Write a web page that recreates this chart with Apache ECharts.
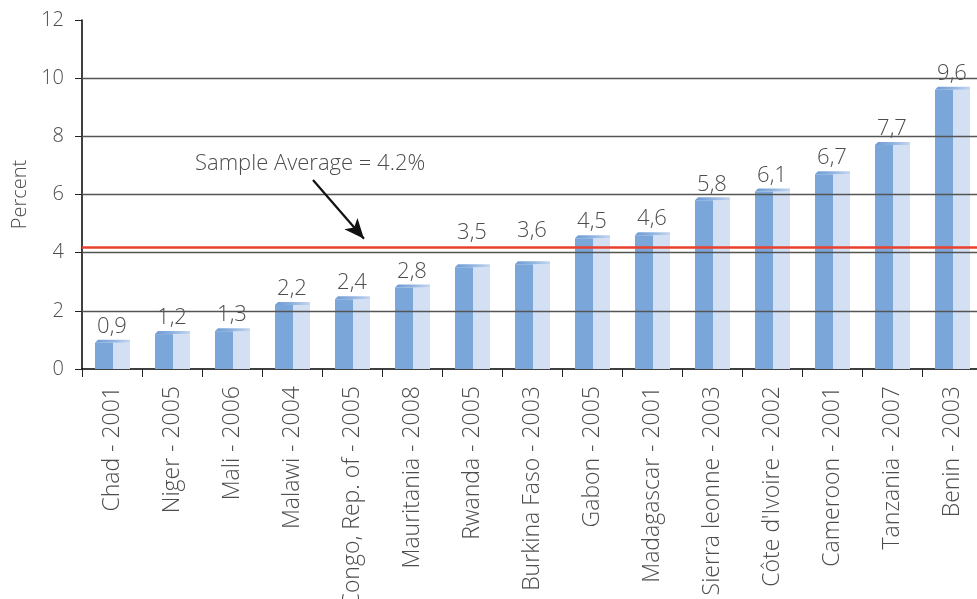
<!DOCTYPE html>
<html>
<head>
<meta charset="utf-8">
<script src="https://cdn.jsdelivr.net/npm/echarts@6/dist/echarts.min.js"></script>
<style>
  html, body { margin: 0; padding: 0; background: #fff; }
  #chart { width: 977px; height: 599px; }
</style>
</head>
<body>
<div id="chart"></div>
<script>
// Survey countries and years, sorted by share
const countries = [
  'Chad - 2001', 'Niger - 2005', 'Mali - 2006', 'Malawi - 2004',
  'Congo, Rep. of - 2005', 'Mauritania - 2008', 'Rwanda - 2005',
  'Burkina Faso - 2003', 'Gabon - 2005', 'Madagascar - 2001',
  'Sierra leonne - 2003', "Côte d'Ivoire - 2002", 'Cameroon - 2001',
  'Tanzania - 2007', 'Benin - 2003'
];
const percentValues = [0.9, 1.2, 1.3, 2.2, 2.4, 2.8, 3.5, 3.6, 4.5, 4.6, 5.8, 6.1, 6.7, 7.7, 9.6];
const sampleAverage = 4.2;
const yTicks = [0, 2, 4, 6, 8, 10, 12];

const FONT = '"Open Sans"';
const TEXT = '#4d4d4d';

// Labels lifted clear of the average line
const raisedLabels = new Set([6, 7]);

function renderBar(params, api) {
  const idx = api.value(0);
  const v = api.value(1);
  const base = api.coord([idx, 0]);
  const top = api.coord([idx, v]);
  const cx = base[0];
  const x0 = cx - 17, x1 = cx + 1, x2 = cx + 18;
  const ty = top[1];
  const lift = raisedLabels.has(idx) ? 18 : 0;
  return {
    type: 'group',
    children: [
      { type: 'rect', shape: { x: x0, y: ty, width: x1 - x0, height: base[1] - ty },
        style: { fill: '#7ba6d9' } },
      { type: 'rect', shape: { x: x1, y: ty, width: x2 - x1, height: base[1] - ty },
        style: { fill: '#d3dff2' } },
      { type: 'polygon', shape: { points: [[x0, ty], [x0 + 3, ty - 3], [x2, ty - 3], [x2, ty]] },
        style: { fill: new echarts.graphic.LinearGradient(0, 0, 1, 0, [
          { offset: 0, color: '#6e9bd4' }, { offset: 0.5, color: '#8fb3e0' }, { offset: 1, color: '#c6d6ef' }
        ]) } },
      { type: 'text', style: {
          text: v.toFixed(1).replace('.', ','),
          x: cx, y: ty - 5 - lift,
          align: 'center', verticalAlign: 'bottom',
          fill: TEXT, font: '300 22px ' + FONT
        } }
    ]
  };
}

const chart = echarts.init(document.getElementById('chart'), null, { renderer: 'canvas' });

chart.setOption({
  animation: false,
  backgroundColor: '#fff',
  grid: { left: 82, top: 20, width: 900, height: 349, containLabel: false, outerBoundsMode: 'none' },
  xAxis: [
    {
      type: 'category',
      data: countries,
      axisLine: { lineStyle: { color: '#000', width: 1.5 } },
      axisTick: { show: true, length: 8, lineStyle: { color: '#222' } },
      axisLabel: { rotate: 90, fontSize: 23, color: TEXT, fontFamily: FONT, fontWeight: 300, margin: 17 }
    },
    { type: 'value', min: 0, max: 15, show: false }
  ],
  yAxis: {
    type: 'value',
    min: yTicks[0], max: yTicks[yTicks.length - 1], interval: 2,
    name: 'Percent', nameLocation: 'middle', nameGap: 50,
    nameTextStyle: { fontSize: 20, color: TEXT, fontFamily: FONT, fontWeight: 300 },
    axisLine: { show: true, lineStyle: { color: '#000', width: 1.5 } },
    axisTick: { show: true, length: 7, lineStyle: { color: '#222' } },
    axisLabel: { fontSize: 20, color: TEXT, fontFamily: FONT, fontWeight: 300, margin: 18 },
    splitLine: { show: false }
  },
  graphic: [
    { type: 'text', left: 195, top: 153, z: 10,
      style: { text: 'Sample Average = 4.2%', fill: TEXT, font: '300 22px ' + FONT } }
  ],
  series: [
    {
      // gridlines and the sample-average line, drawn behind the bars
      type: 'line', xAxisIndex: 1, data: [], z: 1, silent: true,
      markLine: {
        silent: true, symbol: 'none', animation: false,
        label: { show: false },
        data: [
          ...yTicks.slice(1, -1).map(t => ({ yAxis: t, lineStyle: { color: '#555', width: 1.3, type: 'solid' } })),
          { yAxis: sampleAverage, lineStyle: { color: '#e8412c', width: 2.5, type: 'solid' } }
        ]
      }
    },
    {
      type: 'custom', xAxisIndex: 0, z: 2,
      renderItem: renderBar,
      data: percentValues.map((v, i) => [i, v]),
      encode: { x: 0, y: 1 }
    },
    {
      // pointer from the caption to the average line
      type: 'line', xAxisIndex: 1, data: [], z: 5, silent: true,
      markLine: {
        silent: true, symbol: ['none', 'arrow'], symbolSize: [13, 20], animation: false,
        label: { show: false },
        lineStyle: { color: '#111', width: 2.2, type: 'solid' },
        data: [[{ coord: [3.85, 6.5] }, { coord: [4.7, 4.48] }]]
      }
    }
  ]
});
</script>
</body>
</html>
